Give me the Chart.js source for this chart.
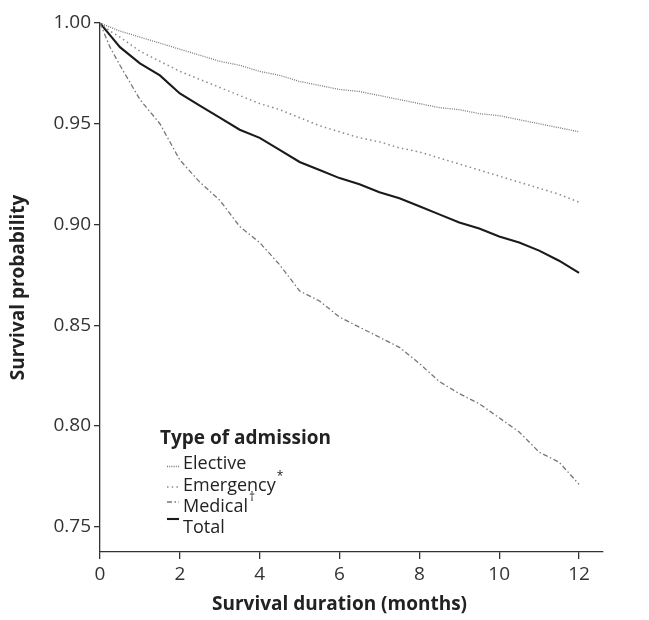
<!DOCTYPE html>
<html>
<head>
<meta charset="utf-8">
<script src="https://cdn.jsdelivr.net/npm/chart.js@4/dist/chart.umd.min.js"></script>
<style>
html,body{margin:0;padding:0;background:#fff;}
#wrap{width:649px;height:620px;position:relative;}
</style>
</head>
<body>
<div id="wrap"><canvas id="c" width="649" height="620"></canvas></div>
<script>
const months    = [0,0.25,0.5,1,1.5,2,2.5,3,3.5,4,4.5,5,5.5,6,6.5,7,7.5,8,8.5,9,9.5,10,10.5,11,11.5,12];
const elective  = [1.000,0.998,0.996,0.993,0.990,0.987,0.984,0.981,0.979,0.976,0.974,0.971,0.969,0.967,0.966,0.964,0.962,0.960,0.958,0.957,0.955,0.954,0.952,0.950,0.948,0.946];
const emergency = [1.000,0.996,0.993,0.986,0.981,0.976,0.972,0.968,0.964,0.960,0.957,0.953,0.949,0.946,0.943,0.941,0.938,0.936,0.933,0.930,0.927,0.924,0.921,0.918,0.915,0.911];
const medical   = [1.000,0.988,0.979,0.962,0.950,0.932,0.921,0.912,0.899,0.891,0.880,0.867,0.862,0.854,0.849,0.844,0.839,0.831,0.822,0.816,0.811,0.804,0.797,0.787,0.782,0.771];
const total     = [1.000,0.994,0.988,0.980,0.974,0.965,0.959,0.953,0.947,0.943,0.937,0.931,0.927,0.923,0.920,0.916,0.913,0.909,0.905,0.901,0.898,0.894,0.891,0.887,0.882,0.876];
const xTicks = [0,2,4,6,8,10,12];
const yTicks = [0.75,0.80,0.85,0.90,0.95,1.00];
const seriesNames = ['Elective','Emergency','Medical','Total'];
const seriesMarks = ['', '*', '\u2020', ''];
const legendTitle = 'Type of admission';
const xTitle = 'Survival duration (months)';
const yTitle = 'Survival probability';

const FONT = '"Open Sans", "DejaVu Sans", sans-serif';
const toPts = arr => months.map((m,i)=>({x:m,y:arr[i]}));

const styles = [
  {borderColor:'#7a7a7a', borderWidth:1.3, borderDash:[1,1.2]},
  {borderColor:'#8a8a8a', borderWidth:1.5, borderDash:[1.5,3.2]},
  {borderColor:'#777777', borderWidth:1.3, borderDash:[5,2.5,1.5,2.5]},
  {borderColor:'#1a1a1a', borderWidth:2.1, borderDash:[]}
];
const seriesData = [elective, emergency, medical, total];

const legendPlugin = {
  id:'kmLegend',
  afterDatasetsDraw(chart){
    const ctx = chart.ctx, ca = chart.chartArea;
    const x0 = ca.left + 60;
    ctx.save();
    ctx.fillStyle = '#222';
    ctx.textBaseline = 'alphabetic';
    ctx.font = 'bold 19px ' + FONT;
    ctx.fillText(legendTitle, x0, 444);
    const rowBase = [469, 491, 512, 533];
    const sampleY = [466.5, 487, 502, 519];
    chart.data.datasets.forEach((ds,i)=>{
      ctx.save();
      ctx.strokeStyle = ds.borderColor;
      ctx.lineWidth = ds.borderWidth;
      ctx.setLineDash(ds.borderDash || []);
      ctx.beginPath();
      ctx.moveTo(x0+7, sampleY[i]);
      ctx.lineTo(x0+19, sampleY[i]);
      ctx.stroke();
      ctx.restore();
      ctx.font = '18px ' + FONT;
      ctx.fillStyle = '#222';
      ctx.fillText(ds.label, x0+23, rowBase[i]);
      if (seriesMarks[i]) {
        const w = ctx.measureText(ds.label).width;
        ctx.font = '12px ' + FONT;
        ctx.fillText(seriesMarks[i], x0+24+w, rowBase[i]-11);
      }
    });
    ctx.restore();
  }
};

const xTitlePlugin = {
  id:'xTitle',
  afterDraw(chart){
    const ctx = chart.ctx, sx = chart.scales.x;
    ctx.save();
    ctx.font = 'bold 19px ' + FONT;
    ctx.fillStyle = '#222';
    ctx.textAlign = 'center';
    ctx.textBaseline = 'middle';
    ctx.fillText(xTitle, sx.getPixelForValue((xTicks[0]+xTicks[xTicks.length-1])/2), 605);
    ctx.restore();
  }
};

new Chart(document.getElementById('c'), {
  type:'line',
  data:{
    datasets: seriesNames.map((n,i)=>Object.assign({
      label:n, data:toPts(seriesData[i]), pointRadius:0, tension:0, fill:false
    }, styles[i]))
  },
  options:{
    responsive:false, animation:false,
    layout:{padding:{top:23, right:46, bottom:0, left:0}},
    plugins:{legend:{display:false}, tooltip:{enabled:false}},
    scales:{
      x:{
        type:'linear', min:0, max:12.6,
        afterBuildTicks:s=>{ s.ticks = xTicks.map(v=>({value:v})); },
        afterFit:s=>{ s.height = 68; },
        ticks:{font:{family:FONT,size:19}, color:'#333', padding:4, maxRotation:0},
        grid:{drawOnChartArea:false, tickLength:7, color:'#333', lineWidth:1.3},
        border:{color:'#333', width:1.3}
      },
      y:{
        type:'linear', min:0.7374, max:1.0,
        afterBuildTicks:s=>{ s.ticks = yTicks.map(v=>({value:v})); },
        afterFit:s=>{ s.width = 100; },
        ticks:{font:{family:FONT,size:19}, color:'#333', padding:3, callback:v=>Number(v).toFixed(2)},
        grid:{drawOnChartArea:false, tickLength:6, color:'#333', lineWidth:1.3},
        border:{color:'#333', width:1.3},
        title:{display:true, text:yTitle, font:{family:FONT,size:19,weight:'bold'}, color:'#222', padding:{top:7,bottom:0}}
      }
    }
  },
  plugins:[legendPlugin, xTitlePlugin]
});
</script>
</body>
</html>
